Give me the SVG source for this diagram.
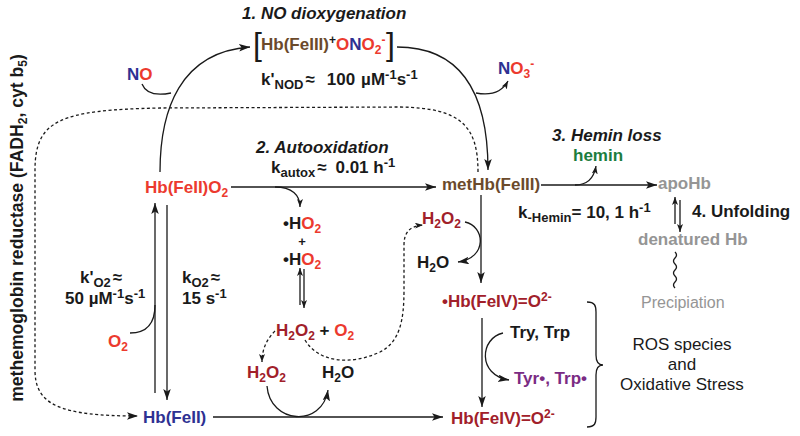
<svg xmlns="http://www.w3.org/2000/svg" width="800" height="436" viewBox="0 0 800 436">
<defs>
<style>
text{font-family:"Liberation Sans",Arial,sans-serif;font-weight:bold;font-size:17px;fill:#1a1a1a}
.it{font-style:italic}
.nw{font-weight:normal}
.br{fill:#6b4a2b}
.rd{fill:#ec3a2e}
.bl{fill:#2e3192}
.dr{fill:#a1202a}
.gr{fill:#1c7d3e}
.gy{fill:#959595}
.pu{fill:#7b2b83}
.bk{fill:#1a1a1a}
.s{font-size:12px}
.s13{font-size:13px}
.ln{fill:none;stroke:#1a1a1a;stroke-width:1.3}
.ds{fill:none;stroke:#1a1a1a;stroke-width:1.3;stroke-dasharray:3 2.5}
</style>
<marker id="ah" markerUnits="userSpaceOnUse" markerWidth="13" markerHeight="8" refX="11" refY="3.75" orient="auto">
<path d="M0,0 L11,3.75 L0,7.5 L2.5,3.75 z" fill="#1a1a1a"/>
</marker>
<marker id="as" markerUnits="userSpaceOnUse" markerWidth="10" markerHeight="7" refX="8" refY="3" orient="auto">
<path d="M0,0 L8,3 L0,6 L2,3 z" fill="#1a1a1a"/>
</marker>
</defs>
<rect width="800" height="436" fill="#ffffff"/>

<g id="connectors">
<path class="ln" d="M160,172 C160,110 180,52 250,47" marker-end="url(#ah)"/>
<path class="ln" d="M142,84 C146,94 156,96 171,93"/>
<path class="ln" d="M397,47 C447,47 488,75 488,170" marker-end="url(#ah)"/>
<path class="ln" d="M476,93 C492,96 502,92 508,81" marker-end="url(#as)"/>
<path class="ds" d="M478,172 C478,125 460,108 400,107 L160,108 C60,110 35,120 35,170 L35,370 C35,405 60,416 138,416" marker-end="url(#ah)"/>
<path class="ln" d="M231,187 L436,187" marker-end="url(#ah)"/>
<path class="ln" d="M275,187 C292,187 300,195 300,207" marker-end="url(#as)"/>
<path class="ln" d="M541,185 L657,185" marker-end="url(#ah)"/>
<path class="ln" d="M575,185 C588,185 594,178 596,166" marker-end="url(#as)"/>
<path class="ln" d="M155,393 L155,203" marker-end="url(#ah)"/>
<path class="ln" d="M167,205 L167,400" marker-end="url(#ah)"/>
<path class="ln" d="M130,333 C148,333 155,322 155,305"/>
<path class="ln" d="M300,305 L300,268" marker-end="url(#as)"/>
<path class="ln" d="M304,269 L304,308" marker-end="url(#as)"/>
<path class="ds" d="M275,331 C266,340 262,350 262,362" marker-end="url(#as)"/>
<path class="ds" d="M305,340 C318,362 350,366 380,352 C400,342 404,320 404,290 L404,245 C404,232 410,226 423,225" marker-end="url(#as)"/>
<path class="ln" d="M267,386 C270,424 322,428 328,390" marker-end="url(#ah)"/>
<path class="ln" d="M213,417 L443,417" marker-end="url(#ah)"/>
<path class="ln" d="M481,195 L481,283" marker-end="url(#ah)"/>
<path class="ln" d="M465,222 C485,226 488,258 458,262" marker-end="url(#ah)"/>
<path class="ln" d="M482,318 L482,407" marker-end="url(#ah)"/>
<path class="ln" d="M503,333 C480,338 477,375 509,380" marker-end="url(#ah)"/>
<path class="ln" d="M675,224 L675,197" marker-end="url(#as)"/>
<path class="ln" d="M680,200 L680,232" marker-end="url(#as)"/>
<path class="ln" d="M675,252 q3,3 0,6 q-3,3 0,6 q3,3 0,6 q-3,3 0,6 q3,3 0,6 q-3,3 0,6"/>
<path class="ln" d="M587,302 C595,302 596,306 596,312 L596,355 C596,362 598,365 603,365 C598,365 596,368 596,375 L596,417 C596,423 595,427 587,427"/>
</g>

<g id="title1"><text class="it" x="242" y="19">1. NO dioxygenation</text></g>
<g id="complex">
<text class="nw" x="253" y="55" style="font-size:32px">[</text>
<text x="261" y="50"><tspan class="br">Hb(FeIII)</tspan><tspan class="s" dy="-6">+</tspan><tspan class="rd" dy="6">O</tspan><tspan class="bl">N</tspan><tspan class="rd">O</tspan><tspan class="rd s" dy="4">2</tspan><tspan class="rd s" dy="-10">-</tspan></text>
<text class="nw" x="386" y="55" style="font-size:32px">]</text>
</g>
<g id="knod"><text x="261" y="85">k'<tspan class="s13" dy="4">NOD</tspan><tspan dy="-4" dx="2">≈</tspan><tspan dx="12">100</tspan><tspan dx="6">µM</tspan><tspan class="s13" dy="-6">-1</tspan><tspan dy="6">s</tspan><tspan class="s13" dy="-6">-1</tspan></text></g>
<g id="no"><text x="127" y="80"><tspan class="bl">N</tspan><tspan class="rd">O</tspan></text></g>
<g id="no3"><text x="498" y="74"><tspan class="bl">N</tspan><tspan class="rd">O</tspan><tspan class="rd s" dy="4">3</tspan><tspan class="rd s" dy="-10">-</tspan></text></g>
<g id="reductase"><text transform="translate(23,228) rotate(-90)" text-anchor="middle" style="font-size:17.6px">methemoglobin reductase (FADH<tspan class="s" dy="4">2</tspan><tspan dy="-4">, cyt b</tspan><tspan class="s" dy="4">5</tspan><tspan dy="-4">)</tspan></text></g>
<g id="title2"><text class="it" x="256" y="153">2. Autooxidation</text></g>
<g id="kautox"><text x="271" y="173">k<tspan class="s13" dy="4">autox</tspan><tspan dy="-4" dx="2">≈</tspan><tspan dx="9">0.01 h</tspan><tspan class="s13" dy="-6">-1</tspan></text></g>
<g id="hbfe2o2"><text class="rd" x="145" y="193">Hb(FeII)O<tspan class="s" dy="4">2</tspan></text></g>
<g id="methb"><text class="br" x="442" y="190">metHb(FeIII)</text></g>
<g id="title3"><text class="it" x="552" y="141">3. Hemin loss</text></g>
<g id="hemin"><text class="gr" x="573" y="161">hemin</text></g>
<g id="apohb"><text class="gy" x="658" y="189">apoHb</text></g>
<g id="khemin"><text x="518" y="218">k<tspan class="s13" dy="4">-Hemin</tspan><tspan dy="-4">= 10, 1 h</tspan><tspan class="s13" dy="-6">-1</tspan></text></g>
<g id="title4"><text x="692" y="217">4. Unfolding</text></g>
<g id="denatured"><text class="gy" x="638" y="245">denatured Hb</text></g>
<g id="precip"><text class="gy nw" x="641" y="308" style="font-size:16px">Precipiation</text></g>
<g id="ho2a"><text x="283" y="229">•H<tspan class="rd">O</tspan><tspan class="rd s" dy="4">2</tspan></text></g>
<g id="plus"><text x="302" y="246" text-anchor="middle" style="font-size:13px">+</text></g>
<g id="ho2b"><text x="283" y="265">•H<tspan class="rd">O</tspan><tspan class="rd s" dy="4">2</tspan></text></g>
<g id="kpo2"><text x="80" y="283">k'<tspan class="s13" dy="4">O2</tspan><tspan dy="-4" dx="2">≈</tspan></text>
<text x="65" y="304">50 µM<tspan class="s13" dy="-6">-1</tspan><tspan dy="6">s</tspan><tspan class="s13" dy="-6">-1</tspan></text></g>
<g id="ko2"><text x="182" y="283">k<tspan class="s13" dy="4">O2</tspan><tspan dy="-4" dx="2">≈</tspan></text>
<text x="182" y="304">15 s<tspan class="s13" dy="-6">-1</tspan></text></g>
<g id="o2"><text class="rd" x="108" y="347">O<tspan class="s" dy="4">2</tspan></text></g>
<g id="h2o2a"><text class="dr" x="422" y="224">H<tspan class="s" dy="4">2</tspan><tspan dy="-4">O</tspan><tspan class="s" dy="4">2</tspan></text></g>
<g id="h2oa"><text x="417" y="268">H<tspan class="s" dy="4">2</tspan><tspan dy="-4">O</tspan></text></g>
<g id="hbfe4rad"><text class="dr" x="442" y="307">•Hb(FeIV)=O<tspan class="s" dy="-6">2-</tspan></text></g>
<g id="h2o2o2"><text x="276" y="336"><tspan class="dr">H</tspan><tspan class="dr s" dy="4">2</tspan><tspan class="dr" dy="-4">O</tspan><tspan class="dr s" dy="4">2</tspan><tspan dy="-4"> + </tspan><tspan class="rd">O</tspan><tspan class="rd s" dy="4">2</tspan></text></g>
<g id="h2o2b"><text class="dr" x="247" y="378">H<tspan class="s" dy="4">2</tspan><tspan dy="-4">O</tspan><tspan class="s" dy="4">2</tspan></text></g>
<g id="h2ob"><text x="322" y="378">H<tspan class="s" dy="4">2</tspan><tspan dy="-4">O</tspan></text></g>
<g id="hbfe2"><text class="bl" x="143" y="423">Hb(FeII)</text></g>
<g id="hbfe4"><text class="dr" x="451" y="424">Hb(FeIV)=O<tspan class="s" dy="-6">2-</tspan></text></g>
<g id="trytrp"><text x="510" y="338">Try, Trp</text></g>
<g id="tyrrad"><text class="pu" x="514" y="384">Tyr•, Trp•</text></g>
<g id="ros"><text class="nw" text-anchor="middle" x="682" y="350">ROS species</text>
<text class="nw" text-anchor="middle" x="682" y="370">and</text>
<text class="nw" text-anchor="middle" x="682" y="390">Oxidative Stress</text></g>
</svg>
